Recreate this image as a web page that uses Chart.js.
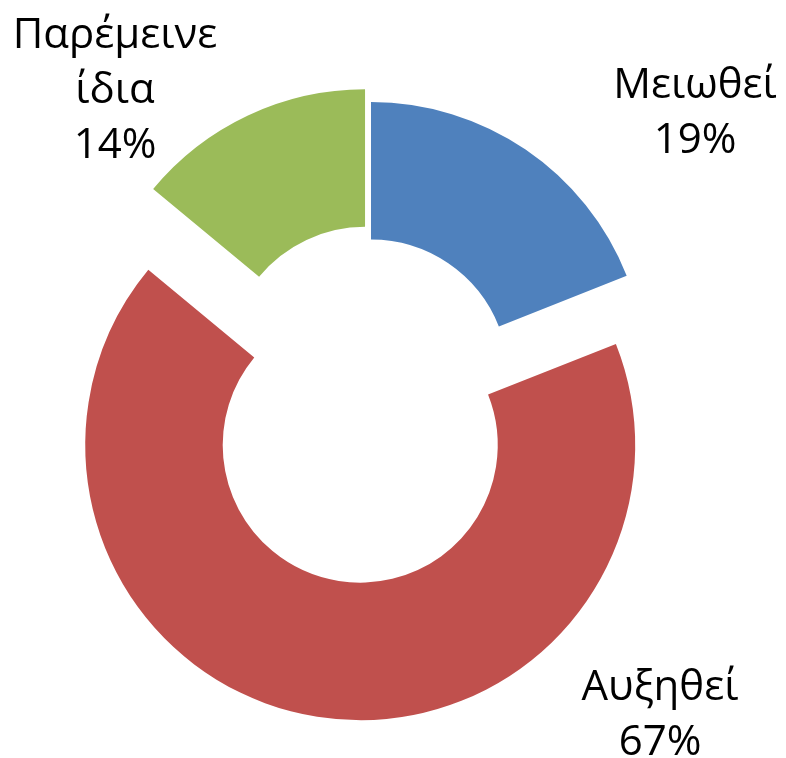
<!DOCTYPE html>
<html>
<head>
<meta charset="utf-8">
<script src="https://cdn.jsdelivr.net/npm/chart.js@4/dist/chart.umd.min.js"></script>
<style>
  html, body { margin: 0; padding: 0; background: #fff; }
  #wrap { width: 786px; height: 758px; }
</style>
</head>
<body>
<div id="wrap"><canvas id="donut"></canvas></div>
<script>
// data
const categories = ['Μειωθεί', 'Αυξηθεί', 'Παρέμεινε ίδια'];
const values = [19, 67, 14];

// style
const sliceColors = ['#4F81BD', '#C0504D', '#9BBB59'];
const explode = [0, 69, 14];                 // px each slice is pulled out
const labelOffsets = [[324, -267], [289, 335], [-256, -289]]; // from chart centre
const labelFont = '42px "Open Sans", "Noto Sans", sans-serif';
const lineHeight = 55;
const capHeight = 30;
const wrapWidth = 220;

// pull slices out along their bisector
const explodePlugin = {
    id: 'explode',
    beforeDatasetDraw(chart, args) {
        const ctx = chart.ctx;
        args.meta.data.forEach(function (arc, i) {
            const mid = (arc.startAngle + arc.endAngle) / 2;
            const d = explode[i] || 0;
            ctx.save();
            ctx.translate(Math.cos(mid) * d, Math.sin(mid) * d);
            arc.draw(ctx);
            ctx.restore();
        });
        return false;
    }
};

// category + percent labels
const labelPlugin = {
    id: 'sliceLabels',
    afterDraw(chart) {
        const ctx = chart.ctx;
        const area = chart.chartArea;
        const cx = (area.left + area.right) / 2;
        const cy = (area.top + area.bottom) / 2;
        const total = values.reduce((a, b) => a + b, 0);
        ctx.save();
        ctx.font = labelFont;
        ctx.fillStyle = '#000';
        ctx.textAlign = 'center';
        ctx.textBaseline = 'alphabetic';
        categories.forEach(function (name, i) {
            // wrap words
            const lines = [];
            let cur = '';
            name.split(' ').forEach(function (w) {
                const test = cur ? cur + ' ' + w : w;
                if (cur && ctx.measureText(test).width > wrapWidth) {
                    lines.push(cur);
                    cur = w;
                } else {
                    cur = test;
                }
            });
            lines.push(cur);
            lines.push(Math.round(values[i] / total * 100) + '%');

            const x = cx + labelOffsets[i][0];
            const midY = cy + labelOffsets[i][1];
            const firstBase = midY - (lines.length - 1) * lineHeight / 2 + capHeight / 2;
            lines.forEach(function (t, k) {
                ctx.fillText(t, x, firstBase + k * lineHeight);
            });
        });
        ctx.restore();
    }
};

new Chart(document.getElementById('donut'), {
    type: 'doughnut',
    data: {
        labels: categories,
        datasets: [{
            data: values,
            backgroundColor: sliceColors,
            borderWidth: 0,
            hoverOffset: 0
        }]
    },
    options: {
        responsive: true,
        maintainAspectRatio: false,
        animation: false,
        cutout: '50%',
        layout: { padding: { left: 96, right: 140, top: 102, bottom: 106 } },
        events: [],
        plugins: {
            legend: { display: false },
            tooltip: { enabled: false }
        }
    },
    plugins: [explodePlugin, labelPlugin]
});
</script>
</body>
</html>
